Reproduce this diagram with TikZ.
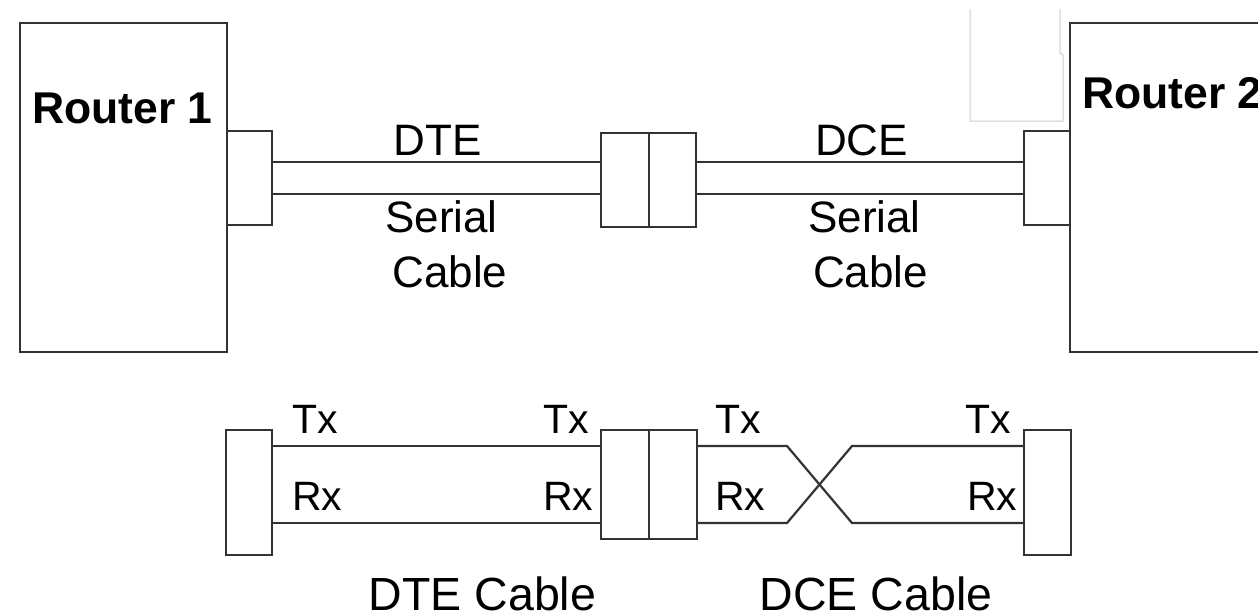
\documentclass[tikz,border=0pt]{standalone}
\usepackage{fontspec}
\setmainfont{Liberation Sans}
\definecolor{wire}{HTML}{333333}
\definecolor{faint}{HTML}{CCCCCC}
\begin{document}
\begin{tikzpicture}[x=1pt,y=-1pt,
  box/.style={draw=wire,line width=2.2pt,rectangle,inner sep=0pt,outer sep=0pt,fill=white},
  wirel/.style={draw=wire,line width=2.2pt},
  rlabel/.style={font=\bfseries\fontsize{44.5}{50}\selectfont,inner sep=0pt,anchor=base west},
  clabel/.style={font=\fontsize{44}{50}\selectfont,inner sep=0pt,anchor=base},
  blabel/.style={font=\fontsize{46.5}{52}\selectfont,inner sep=0pt,anchor=base},
  pin/.style={font=\fontsize{41}{46}\selectfont,inner sep=0pt,anchor=base west}]
\useasboundingbox (0,0) rectangle (1258,614);
\clip (0,0) rectangle (1258,614);
\fill[white] (0,0) rectangle (1258,614);
% faint artefact box
\draw[faint,line width=1pt] (970,9) -- (970,121) -- (1063,121) -- (1063,55) -- (1060,53) -- (1060,9);
% ---- top: routers and serial cables
\node[box,minimum width=207pt,minimum height=329pt] (r1) at (123.5,187.5) {};
\node[box,minimum width=45pt,minimum height=94pt] (p1) at (249.5,178) {};
\node[box,minimum width=220pt,minimum height=329pt] (r2) at (1180,187.5) {};
\node[box,minimum width=46pt,minimum height=94pt] (p2) at (1047,178) {};
\node[box,minimum width=48pt,minimum height=94pt] (ml) at (625,180) {};
\node[box,minimum width=47pt,minimum height=94pt] (mr) at (672.5,180) {};
\draw[wirel] (p1.east |- 0,162) -- (ml.west |- 0,162);
\draw[wirel] (p1.east |- 0,194) -- (ml.west |- 0,194);
\draw[wirel] (mr.east |- 0,162) -- (p2.west |- 0,162);
\draw[wirel] (mr.east |- 0,194) -- (p2.west |- 0,194);
\node[rlabel] (t1) at (32,123) {Router 1};
\node[rlabel] (t2) at (1082,108) {Router 2};
\node[clabel] (dte) at (437.5,155) {DTE};
\node[clabel] (s1) at (441.5,232) {Serial};
\node[clabel] (c1) at (450,287) {Cable};
\node[clabel] (dce) at (861.5,155) {DCE};
\node[clabel] (s2) at (864.5,232) {Serial};
\node[clabel] (c2) at (870.5,287) {Cable};
% ---- bottom: DTE and DCE cables
\node[box,minimum width=46pt,minimum height=125pt] (el) at (249,492.5) {};
\node[box,minimum width=48pt,minimum height=109pt] (bl) at (625,484.5) {};
\node[box,minimum width=48pt,minimum height=109pt] (br) at (673,484.5) {};
\node[box,minimum width=47pt,minimum height=125pt] (er) at (1047.5,492.5) {};
\draw[wirel] (el.east |- 0,446) -- (bl.west |- 0,446);
\draw[wirel] (el.east |- 0,523) -- (bl.west |- 0,523);
\draw[wirel,line join=miter] (br.east |- 0,446) -- (787,446) -- (852,523) -- (er.west |- 0,523);
\draw[wirel,line join=miter] (br.east |- 0,523) -- (787,523) -- (852,446) -- (er.west |- 0,446);
\node[pin] (tx1) at (292,433) {Tx};
\node[pin] (rx1) at (292,510) {Rx};
\node[pin] (tx2) at (543,433) {Tx};
\node[pin] (rx2) at (543,510) {Rx};
\node[pin] (tx3) at (715,433) {Tx};
\node[pin] (rx3) at (715,510) {Rx};
\node[pin] (tx4) at (965,433) {Tx};
\node[pin] (rx4) at (967,510) {Rx};
\node[blabel] (dtec) at (482.5,610) {DTE Cable};
\node[blabel] (dcec) at (876,610) {DCE Cable};
\end{tikzpicture}
\end{document}
